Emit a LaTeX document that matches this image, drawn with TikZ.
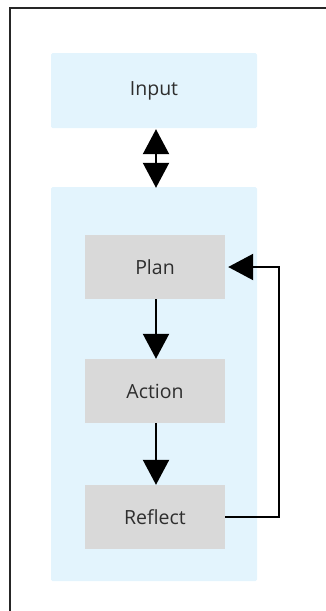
\documentclass[tikz,border=0pt]{standalone}
\usepackage{fontspec}
\setmainfont{Open Sans}
\usetikzlibrary{arrows.meta}
\definecolor{lightblue}{HTML}{E3F4FD}
\definecolor{boxgray}{HTML}{D9D9D9}
\definecolor{txt}{HTML}{2E2E2E}
\tikzset{
  container/.style={fill=lightblue, rounded corners=1.5pt, draw=none},
  stepbox/.style={fill=boxgray, draw=none, minimum width=140pt, minimum height=64pt, text=txt, font=\fontsize{19.5pt}{22pt}\selectfont},
  inbox/.style={fill=lightblue, rounded corners=1.5pt, draw=none, minimum width=206pt, minimum height=75pt, text=txt, font=\fontsize{19.5pt}{22pt}\selectfont},
  conn/.style={line width=2.2pt, black},
  bigtip/.tip={Triangle[length=25pt,width=26pt]}
}
\begin{document}
\begin{tikzpicture}[x=1pt,y=1pt]
\useasboundingbox (0,0) rectangle (326,-611);
\begin{scope}
\clip (0,0) rectangle (326,-611);
\draw[line width=2pt, black!85] (9.5,-7.5) rectangle (360,-660);
\end{scope}
\node[inbox] (input) at (154,-90.5) {Input};
\node[container, minimum width=206pt, minimum height=394pt] (loop) at (154,-384) {};
\node[stepbox] (plan) at (155,-267) {Plan};
\node[stepbox] (action) at (155,-391) {Action};
\node[stepbox] (reflect) at (155,-517) {Reflect};
\draw[conn, {bigtip}-{bigtip}, shorten <=1pt, shorten >=-1pt] (input.south -| 156,0) -- (loop.north -| 156,0);
\draw[conn, -{bigtip}] (plan.south -| 156,0) -- (action.north -| 156,0);
\draw[conn, -{bigtip}] (action.south -| 156,0) -- (reflect.north -| 156,0);
\coordinate (turn) at (279,0);
\draw[conn, -{bigtip}, line join=miter] (reflect.east) -- (reflect.east -| turn) -- (turn |- plan.east) -- ([xshift=3pt]plan.east);
\end{tikzpicture}
\end{document}
